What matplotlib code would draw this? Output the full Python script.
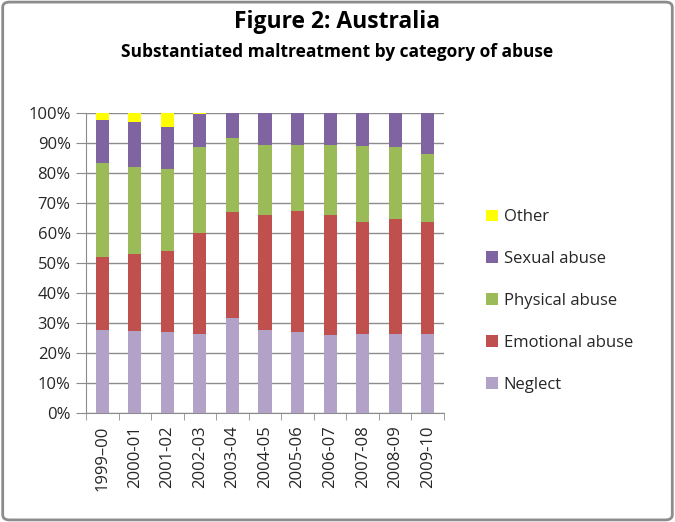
import matplotlib.pyplot as plt
from matplotlib.patches import FancyBboxPatch
from matplotlib.ticker import PercentFormatter
import numpy as np

plt.rcParams['font.family'] = ['Open Sans', 'DejaVu Sans']

years = ['1999–00', '2000-01', '2001-02', '2002-03', '2003-04', '2004-05',
         '2005-06', '2006-07', '2007-08', '2008-09', '2009-10']
neglect = [27.8, 27.2, 26.9, 26.4, 31.6, 27.8, 26.9, 26.0, 26.4, 26.4, 26.4]
emotional = [24.3, 25.8, 27.0, 33.5, 35.5, 38.1, 40.3, 39.9, 37.4, 38.3, 37.4]
physical = [31.2, 29.1, 27.4, 28.7, 24.5, 23.5, 22.2, 23.5, 25.2, 23.9, 22.6]
sexual = [14.3, 15.0, 14.1, 11.0, 8.4, 10.6, 10.6, 10.6, 11.0, 11.4, 13.6]
other = [2.4, 2.9, 4.6, 0.4, 0, 0, 0, 0, 0, 0, 0]

series = [('Neglect', neglect, '#B3A2C7'),
          ('Emotional abuse', emotional, '#C0504D'),
          ('Physical abuse', physical, '#9BBB59'),
          ('Sexual abuse', sexual, '#8064A2'),
          ('Other', other, '#FFFF00')]

fig = plt.figure(figsize=(6.75, 5.22), dpi=100)
ax = fig.add_axes([86 / 675, 1 - 413 / 522, 358 / 675, 300 / 522])

x = np.arange(len(years))
bottom = np.zeros(len(years))
handles = []
for name, vals, col in series:
    b = ax.bar(x, vals, 0.4, bottom=bottom, color=col, label=name, zorder=3)
    handles.append(b)
    bottom += np.array(vals)

ax.set_xlim(-0.5, len(years) - 0.5)
ax.set_ylim(0, 100)
ax.set_yticks(np.arange(0, 101, 10))
ax.yaxis.set_major_formatter(PercentFormatter(decimals=0))
ax.yaxis.grid(True, color='#8c8c8c', lw=1, zorder=0)
ax.set_xticks(x)
ax.set_xticklabels(years, rotation=90, fontsize=12, color='#262626')
ax.set_xticks(np.arange(-0.5, len(years)), minor=True)
ax.tick_params(axis='x', which='major', length=0, pad=9)
ax.tick_params(axis='x', which='minor', length=5, color='#8c8c8c')
ax.tick_params(axis='y', length=7, color='#8c8c8c', labelsize=12, labelcolor='#262626', pad=4)
for s in ['top', 'right']:
    ax.spines[s].set_visible(False)
for s in ['left', 'bottom']:
    ax.spines[s].set_color('#8c8c8c')

fig.text(0.5, 1 - 22 / 522, 'Figure 2: Australia', ha='center', va='center',
         fontsize=16.5, fontweight='bold')
fig.text(0.5, 1 - 52 / 522, 'Substantiated maltreatment by category of abuse',
         ha='center', va='center', fontsize=12.5, fontweight='bold')

fig.legend(handles[::-1], [s[0] for s in series][::-1], loc='center left',
           bbox_to_anchor=(471 / 675, 1 - 301 / 522), frameon=False, fontsize=12,
           handlelength=0.7, handleheight=0.7, labelspacing=1.55, handletextpad=0.35,
           labelcolor='#262626')

border = FancyBboxPatch((0.004, 0.004), 0.992, 0.992, boxstyle='round,pad=0,rounding_size=0.01',
                        transform=fig.transFigure, fill=False, ec='#8c8c8c', lw=2)
fig.patches.append(border)

fig.savefig('out.png', dpi=100)
